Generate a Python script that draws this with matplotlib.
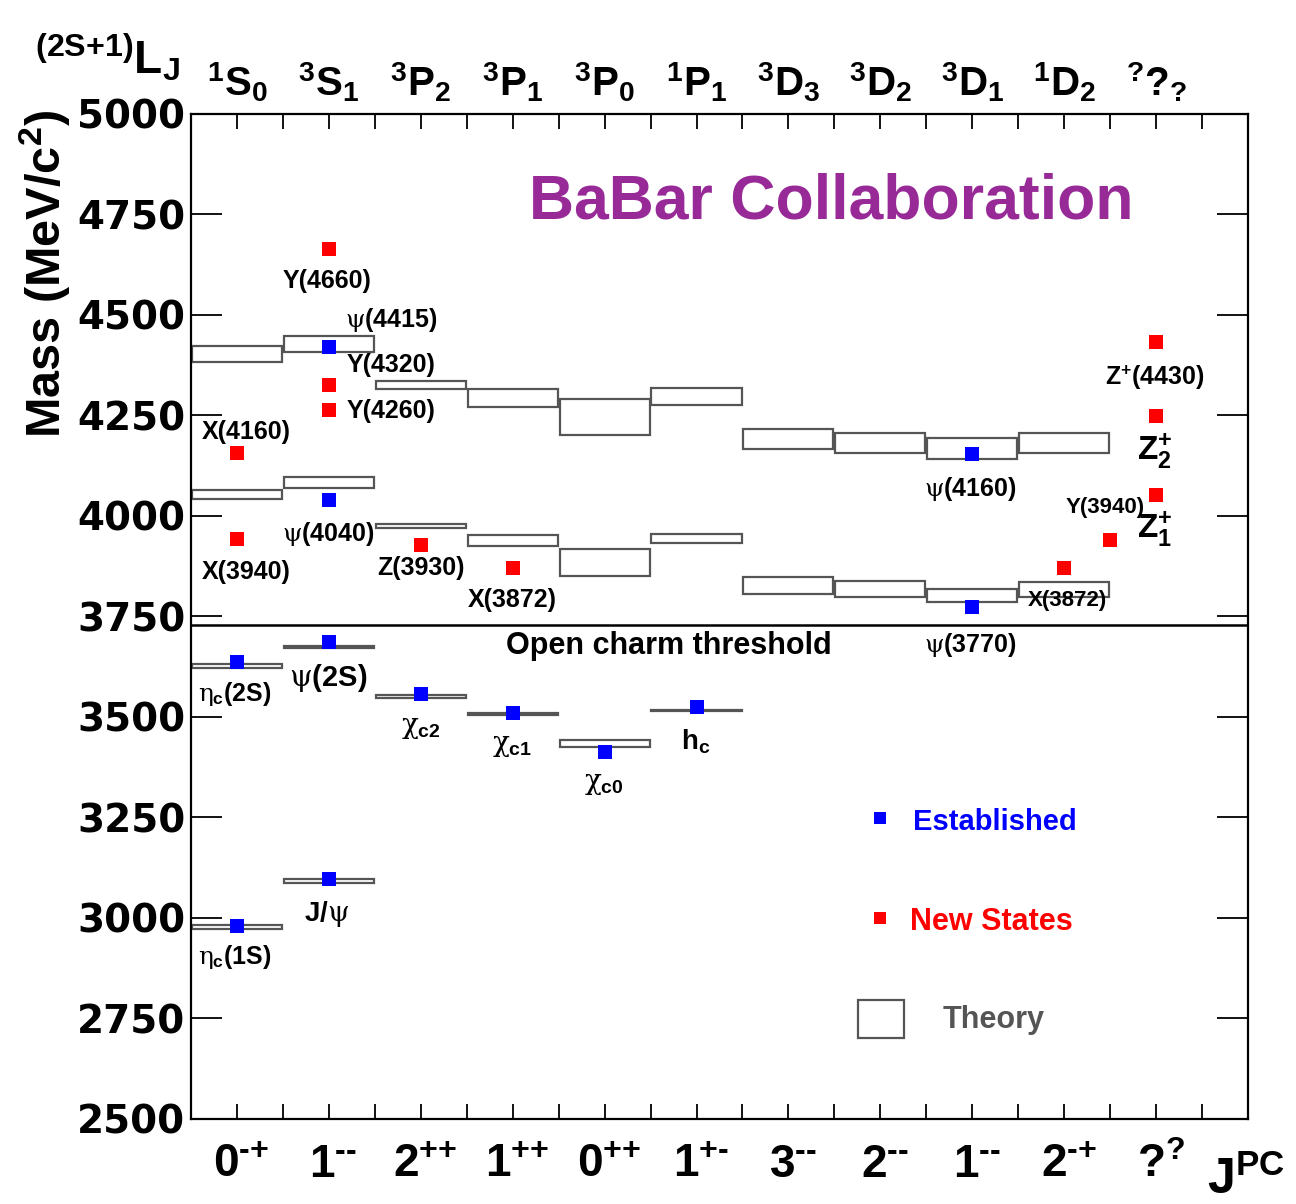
import matplotlib
matplotlib.use('Agg')
import matplotlib.pyplot as plt
from matplotlib.patches import Rectangle
from matplotlib import font_manager as fm
import matplotlib.transforms as mtransforms


def has_font(name):
    try:
        fm.findfont(fm.FontProperties(family=name), fallback_to_default=False)
        return True
    except Exception:
        return False


NARROW = 'Liberation Sans Narrow' if has_font('Liberation Sans Narrow') else 'Liberation Sans'
SANS = 'Liberation Sans'

plt.rcParams['mathtext.fontset'] = 'custom'
plt.rcParams['mathtext.rm'] = f'{NARROW}:bold'
plt.rcParams['mathtext.bf'] = f'{SANS}:bold'
plt.rcParams['mathtext.it'] = 'DejaVu Serif'
plt.rcParams['mathtext.sf'] = f'{SANS}:bold'

# ---------------- data ----------------
jpc_labels = [r'0$^{\text{-+}}$', r'1$^{\text{--}}$', r'2$^{\text{++}}$', r'1$^{\text{++}}$',
              r'0$^{\text{++}}$', r'1$^{\text{+-}}$', r'3$^{\text{--}}$', r'2$^{\text{--}}$',
              r'1$^{\text{--}}$', r'2$^{\text{-+}}$', '?$^{?}$']
lj_labels = ['${}^{1}$S$_{0}$', '${}^{3}$S$_{1}$', '${}^{3}$P$_{2}$', '${}^{3}$P$_{1}$',
             '${}^{3}$P$_{0}$', '${}^{1}$P$_{1}$', '${}^{3}$D$_{3}$', '${}^{3}$D$_{2}$',
             '${}^{3}$D$_{1}$', '${}^{1}$D$_{2}$', '${}^{?}$?$_{?}$']
categories = list(range(1, 12))

# established states: column, mass (MeV/c^2)
est_col = [1, 1, 2, 2, 2, 2, 3, 4, 5, 6, 9, 9]
est_mass = [2980, 3637, 3097, 3687, 4040, 4420, 3556, 3510, 3414, 3526, 4153, 3774]

# new states
new_col = [1, 1, 2, 2, 2, 3, 4, 10, 10.5, 11, 11, 11]
new_mass = [3943, 4156, 4264, 4326, 4664, 3929, 3871, 3871, 3941, 4433, 4248, 4052]

# theory predictions: column, low, high
th_col = [1, 1, 1, 1,
          2, 2, 2, 2,
          3, 3, 3,
          4, 4, 4,
          5, 5, 5,
          6, 6, 6,
          7, 7, 8, 8, 9, 9, 10, 10]
th_low = [2973, 3622, 4042, 4383,
          3088, 3672, 4070, 4408,
          3547, 3970, 4316,
          3506, 3925, 4271,
          3425, 3851, 4201,
          3515, 3933, 4276,
          3806, 4167, 3799, 4157, 3786, 4142, 3799, 4157]
th_high = [2983, 3632, 4065, 4423,
           3098, 3677, 4097, 4448,
           3555, 3980, 4336,
           3509, 3953, 4316,
           3444, 3918, 4291,
           3518, 3955, 4318,
           3848, 4216, 3838, 4206, 3818, 4194, 3836, 4206]

open_charm_threshold = 3729

# state labels: text, x (column), y (mass) of label centre, size
state_labels = [
    ('Y(4660)', 1.98, 4585, 18),
    (r'$\psi$(4415)', 2.68, 4488, 18),
    ('Y(4320)', 2.68, 4376, 18),
    ('Y(4260)', 2.68, 4261, 18),
    ('X(4160)', 1.10, 4209, 18),
    (r'$\psi$(4040)', 1.99, 3955, 18),
    ('X(3940)', 1.10, 3861, 18),
    ('Z(3930)', 3.00, 3871, 18),
    ('X(3872)', 4.00, 3791, 18),
    (r'$\psi$(4160)', 8.98, 4067, 18),
    ('Y(3940)', 10.45, 4022, 16),
    (r'Z$^{\text{+}}$(4430)', 10.99, 4343, 18),
    (r'Z$^{\text{+}}_{2}$', 10.99, 4162, 24),
    (r'Z$^{\text{+}}_{1}$', 10.99, 3968, 24),
    ('X(3872)', 10.03, 3791, 16),
    (r'$\psi$(3770)', 8.98, 3679, 18),
    (r'$\eta_{\mathbf{c}}$(2S)', 0.98, 3557, 18),
    (r'$\psi$(2S)', 1.99, 3597, 21),
    (r'$\chi_{\mathbf{c2}}$', 3.0, 3473, 20),
    (r'$\chi_{\mathbf{c1}}$', 3.99, 3428, 20),
    (r'$\chi_{\mathbf{c0}}$', 4.99, 3333, 20),
    (r'h$_{\mathbf{c}}$', 5.99, 3438, 20),
    (r'J/$\psi$', 1.98, 3010, 20),
    (r'$\eta_{\mathbf{c}}$(1S)', 0.98, 2903, 18),
]

# ---------------- figure ----------------
fig = plt.figure(figsize=(12.96, 12.04), dpi=100)
ax = fig.add_axes([191 / 1296, 1 - 1119 / 1204, 1057 / 1296, 1005 / 1204])
ax.set_xlim(0.5, 12.0)
ax.set_ylim(2500, 5000)

for lo, hi, c in zip(th_low, th_high, th_col):
    ax.add_patch(Rectangle((c - 0.49, lo), 0.98, hi - lo, fill=False,
                           edgecolor='#555555', linewidth=1.6, zorder=2))

ax.axhline(open_charm_threshold, color='black', linewidth=1.8, zorder=3)

ax.plot(est_col, est_mass, linestyle='none', marker='s', markersize=10,
        color='#0000ff', markeredgewidth=0, zorder=4)
ax.plot(new_col, new_mass, linestyle='none', marker='s', markersize=10,
        color='#ff0000', markeredgewidth=0, zorder=4)

for txt, x, y, fs in state_labels:
    ax.text(x, y, txt, ha='center', va='center', fontsize=fs,
            family=SANS, weight='bold', zorder=5)

ax.text(0.452, 0.4706, 'Open charm threshold', transform=ax.transAxes,
        ha='center', va='center', fontsize=22, family=SANS, weight='bold')
ax.text(0.606, 0.912, 'BaBar Collaboration', transform=ax.transAxes,
        ha='center', va='center', fontsize=45, family=SANS, weight='bold',
        color='#982a98')

# legend (manual, as in the original)
ax.plot([8.0], [3249], linestyle='none', marker='s', markersize=9,
        color='#0000ff', markeredgewidth=0)
ax.plot([8.0], [3000], linestyle='none', marker='s', markersize=9,
        color='#ff0000', markeredgewidth=0)
ax.add_patch(Rectangle((7.76, 2701), 0.50, 95, fill=False,
                       edgecolor='#555555', linewidth=1.6))
ax.text(8.36, 3239, 'Established', ha='left', va='center', fontsize=21,
        family=SANS, weight='bold', color='#0000ff')
ax.text(8.32, 2990, 'New States', ha='left', va='center', fontsize=22,
        family=SANS, weight='bold', color='#ff0000')
ax.text(8.68, 2746, 'Theory', ha='left', va='center', fontsize=22,
        family=SANS, weight='bold', color='#555555')

# axes styling
for s in ax.spines.values():
    s.set_linewidth(1.6)
ax.set_yticks(range(2500, 5001, 250))
ax.set_yticklabels([str(v) for v in range(2500, 5001, 250)],
                   fontsize=28, fontweight='bold', family='DejaVu Sans')
ax.tick_params(axis='y', which='major', direction='in', length=22, width=1.3,
               left=True, right=True, pad=4)
ax.set_xticks(categories)
ax.set_xticks([c + 0.5 for c in [0] + categories], minor=True)
ax.set_xticklabels([])
ax.tick_params(axis='x', which='both', direction='in', length=11, width=1.3,
               bottom=True, top=True)

# category labels
tr = mtransforms.blended_transform_factory(ax.transData, fig.transFigure)
for c, lab in zip(categories, jpc_labels):
    ax.text(c + 0.05, 1 - 1177 / 1204, lab, transform=tr, ha='center', va='baseline',
            fontsize=33, family=NARROW, weight='bold')
for c, lab in zip(categories, lj_labels):
    ax.text(c, 1 - 96 / 1204, lab, transform=tr, ha='center', va='baseline',
            fontsize=29, family=NARROW, weight='bold')

fig.text(1246 / 1296, 1 - 1194 / 1204, r'J$^{\mathrm{PC}}$', ha='center', va='baseline',
         fontsize=36, family=NARROW, weight='bold')
fig.text(108 / 1296, 1 - 74 / 1204, r'$^{\text{(2S+1)}}$L$_{\mathrm{J}}$',
         ha='center', va='baseline', fontsize=33, family=NARROW, weight='bold')
fig.text(45 / 1296, 1 - 274 / 1204, 'Mass (MeV/c$^{2}$)', rotation=90,
         ha='center', va='center', fontsize=35, family=NARROW, weight='bold')

fig.savefig('out.png', dpi=100)
